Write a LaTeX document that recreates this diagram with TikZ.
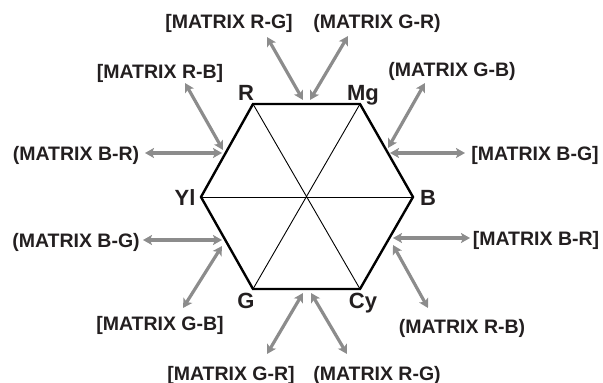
\documentclass[tikz,border=0pt]{standalone}
\usepackage{fontspec}
\setmainfont{Liberation Sans}
\usetikzlibrary{arrows.meta, positioning}
\definecolor{arrowgray}{RGB}{140,140,140}
\definecolor{textdark}{RGB}{35,31,32}

\begin{document}
\begin{tikzpicture}[
  x=1pt, y=-1pt,
  hexline/.style={line width=2.4pt, line join=miter, black},
  spoke/.style={line width=0.9pt, black},
  vlabel/.style={font=\fontsize{22}{24}\selectfont\bfseries, text=textdark, inner sep=0pt, anchor=base},
  mlabel/.style={font=\fontsize{19.5}{22}\selectfont\bfseries, text=textdark, inner sep=0pt, anchor=base},
  arrow/.style={{Stealth[length=9pt,width=10pt,inset=2pt]}-{Stealth[length=9pt,width=10pt,inset=2pt]},
               line width=3.2pt, color=arrowgray}
]
\useasboundingbox (0,0) rectangle (603,383);

% hexagon corners
\coordinate (R)  at (253,104);
\coordinate (Mg) at (360,104);
\coordinate (B)  at (413,197);
\coordinate (Cy) at (360,289);
\coordinate (G)  at (253,289);
\coordinate (Yl) at (201,197);

\draw[spoke] (R) -- (Cy);
\draw[spoke] (Mg) -- (G);
\draw[spoke] (Yl) -- (B);
\draw[hexline] (R) -- (Mg) -- (B) -- (Cy) -- (G) -- (Yl) -- cycle;

\node[vlabel] (lR)  at (246,100) {R};
\node[vlabel] (lMg) at (363,100) {Mg};
\node[vlabel] (lB)  at (428,205) {B};
\node[vlabel] (lCy) at (363,308) {Cy};
\node[vlabel] (lG)  at (246,308) {G};
\node[vlabel] (lYl) at (185,205) {Yl};

% matrix labels
\node[mlabel] (rgTop) at (229,28.5) {[MATRIX R-G]};
\node[mlabel] (grTop) at (377,28.5) {(MATRIX G-R)};
\node[mlabel] (rbUL)  at (160,78)   {[MATRIX R-B]};
\node[mlabel] (brUL)  at (76,160)   {(MATRIX B-R)};
\node[mlabel] (gbUR)  at (452,76)   {(MATRIX G-B)};
\node[mlabel] (bgUR)  at (535,160)  {[MATRIX B-G]};
\node[mlabel] (bgLL)  at (76,247)   {(MATRIX B-G)};
\node[mlabel] (gbLL)  at (160,330)  {[MATRIX G-B]};
\node[mlabel] (brLR)  at (536,245)  {[MATRIX B-R]};
\node[mlabel] (rbLR)  at (462,333)  {(MATRIX R-B)};
\node[mlabel] (grBot) at (231,380)  {[MATRIX G-R]};
\node[mlabel] (rgBot) at (377,380)  {(MATRIX R-G)};

% arrow ends
\coordinate (rgTopA) at (267,37);   \coordinate (rgTopB) at (303,100);
\coordinate (grTopA) at (348,36);   \coordinate (grTopB) at (310,100);
\coordinate (rbULA)  at (185,83);   \coordinate (rbULB)  at (223,150);
\coordinate (brULA)  at (145,153);  \coordinate (brULB)  at (222,153);
\coordinate (gbURA)  at (425,83);   \coordinate (gbURB)  at (388,148);
\coordinate (bgURA)  at (465,153);  \coordinate (bgURB)  at (390,153);
\coordinate (bgLLA)  at (143,240);  \coordinate (bgLLB)  at (222,240);
\coordinate (gbLLA)  at (183,308);  \coordinate (gbLLB)  at (222,246);
\coordinate (brLRA)  at (470,238);  \coordinate (brLRB)  at (393,238);
\coordinate (rbLRA)  at (428,308);  \coordinate (rbLRB)  at (393,245);
\coordinate (grBotA) at (267,354);  \coordinate (grBotB) at (303,293);
\coordinate (rgBotA) at (347,354);  \coordinate (rgBotB) at (311,293);

\foreach \n in {rgTop,grTop,rbUL,brUL,gbUR,bgUR,bgLL,gbLL,brLR,rbLR,grBot,rgBot}
  \draw[arrow] (\n A) -- (\n B);

\end{tikzpicture}
\end{document}
